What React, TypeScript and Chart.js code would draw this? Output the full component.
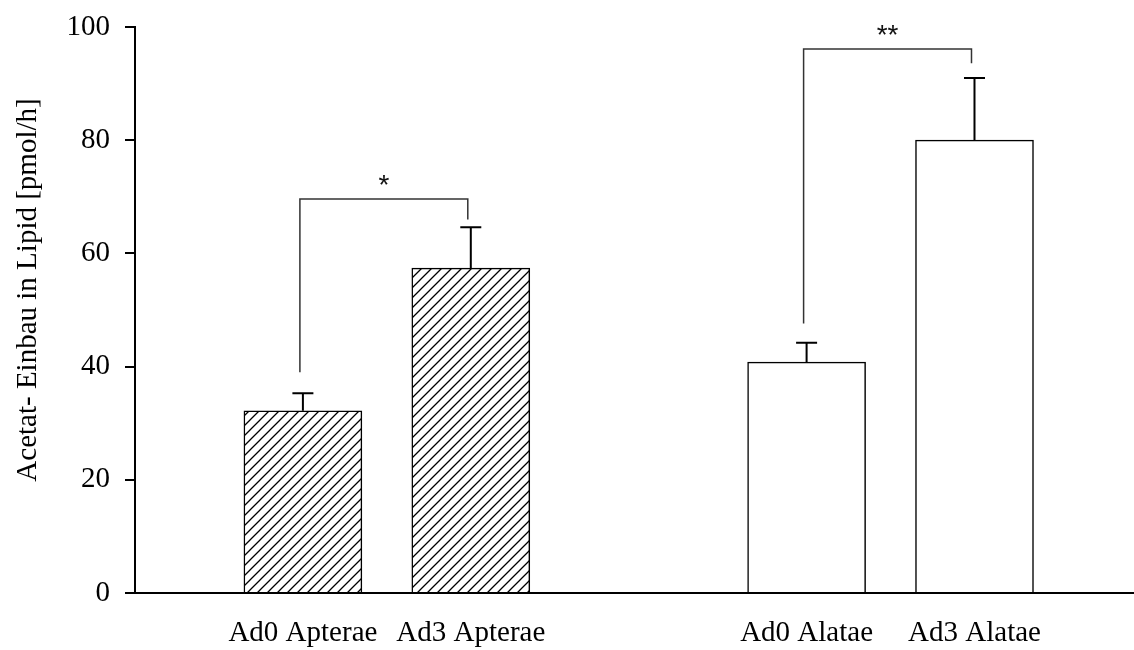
import React, { useEffect, useRef } from "react";
import { Chart, registerables } from "chart.js";

Chart.register(...registerables);

// Group names and their slot positions on the x axis (slot 3 is the gap between groups)
const categories = ["Ad0 Apterae", "Ad3 Apterae", "Ad0 Alatae", "Ad3 Alatae"];
const slots = [1, 2, 4, 5];
// Mean acetate incorporation (pmol/h) and upper error (SE)
const means = [32.2, 57.4, 40.8, 80.0];
const errors = [3.1, 7.2, 3.4, 11.0];
const hatched = [true, true, false, false];

// Significance brackets: indices of compared bars, bracket height, leg ends
const bracketFrom = [0, 2];
const bracketTo = [1, 3];
const bracketLevel = [69.6, 96.1];
const bracketLeftEnd = [39.0, 47.6];
const bracketRightEnd = [66.0, 93.6];
const bracketLabel = ["*", "**"];

const yTicks = [0, 20, 40, 60, 80, 100];
const yTitle = "Acetat- Einbau in Lipid [pmol/h]";

const SERIF = "'Liberation Serif', 'Times New Roman', serif";

function makeHatch(): CanvasPattern | string {
  const c = document.createElement("canvas");
  const s = 10;
  c.width = s;
  c.height = s;
  const ctx = c.getContext("2d");
  if (!ctx) return "#fff";
  ctx.fillStyle = "#fff";
  ctx.fillRect(0, 0, s, s);
  ctx.strokeStyle = "#000";
  ctx.lineWidth = 1.3;
  ctx.beginPath();
  ctx.moveTo(0, s);
  ctx.lineTo(s, 0);
  ctx.moveTo(-2, 2);
  ctx.lineTo(2, -2);
  ctx.moveTo(s - 2, s + 2);
  ctx.lineTo(s + 2, s - 2);
  ctx.stroke();
  return ctx.createPattern(c, "repeat") || "#fff";
}

const annotations = {
  id: "errAndBrackets",
  afterDatasetsDraw(chart: any) {
    const { ctx, scales } = chart;
    const xs = scales.x;
    const ys = scales.y;
    ctx.save();
    // upper error bars
    ctx.strokeStyle = "#000";
    ctx.lineWidth = 2;
    means.forEach((m, i) => {
      const x = xs.getPixelForValue(slots[i]);
      const y0 = ys.getPixelForValue(m);
      const y1 = ys.getPixelForValue(m + errors[i]);
      ctx.beginPath();
      ctx.moveTo(x, y0);
      ctx.lineTo(x, y1);
      ctx.moveTo(x - 10.5, y1);
      ctx.lineTo(x + 10.5, y1);
      ctx.stroke();
    });
    // significance brackets
    ctx.strokeStyle = "#333";
    ctx.lineWidth = 1.5;
    ctx.fillStyle = "#111";
    ctx.font = "28px 'Liberation Sans'";
    ctx.textAlign = "center";
    ctx.textBaseline = "middle";
    bracketLevel.forEach((lv, k) => {
      const xl = xs.getPixelForValue(slots[bracketFrom[k]]) - 3;
      const xr = xs.getPixelForValue(slots[bracketTo[k]]) - 3;
      const yl = ys.getPixelForValue(bracketLeftEnd[k]);
      const yr = ys.getPixelForValue(bracketRightEnd[k]);
      const yt = ys.getPixelForValue(lv);
      ctx.beginPath();
      ctx.moveTo(xl, yl);
      ctx.lineTo(xl, yt);
      ctx.lineTo(xr, yt);
      ctx.lineTo(xr, yr);
      ctx.stroke();
      ctx.fillText(bracketLabel[k], (xl + xr) / 2, yt - 13);
    });
    // rotated y-axis title
    ctx.fillStyle = "#000";
    ctx.font = `29px ${SERIF}`;
    ctx.translate(28, 290);
    ctx.rotate(-Math.PI / 2);
    ctx.fillText(yTitle, 0, 0);
    ctx.restore();
  },
};

export default function App() {
  const ref = useRef<HTMLCanvasElement>(null);

  useEffect(() => {
    if (!ref.current) return;
    const pattern = makeHatch();
    const chart = new Chart(ref.current, {
      type: "bar",
      data: {
        datasets: [
          {
            data: slots.map((s, i) => ({ x: s, y: means[i] })),
            backgroundColor: hatched.map((h) => (h ? pattern : "#fff")),
            borderColor: "#000",
            borderWidth: 1.5,
            barThickness: 118,
          } as any,
        ],
      },
      options: {
        responsive: false,
        animation: false,
        layout: { padding: { top: 27, right: 0, left: 0, bottom: 0 } },
        plugins: { legend: { display: false }, tooltip: { enabled: false } },
        scales: {
          x: {
            type: "linear",
            min: 0,
            max: 5.95,
            offset: false,
            afterFit: (scale: any) => {
              scale.height = 57;
            },
            afterBuildTicks: (scale: any) => {
              scale.ticks = slots.map((v) => ({ value: v }));
            },
            ticks: {
              color: "#000",
              padding: 23,
              maxRotation: 0,
              autoSkip: false,
              font: { family: SERIF, size: 29 },
              callback: (v: any) => {
                const i = slots.indexOf(Number(v));
                return i >= 0 ? categories[i] : "";
              },
            },
            grid: { display: false, drawTicks: false, offset: false },
            border: { display: true, color: "#000", width: 2 },
          },
          y: {
            min: 0,
            max: 100,
            afterFit: (scale: any) => {
              scale.width = 135;
              scale.paddingTop = 0;
              scale.paddingBottom = 0;
            },
            afterBuildTicks: (scale: any) => {
              scale.ticks = yTicks.map((v) => ({ value: v }));
            },
            ticks: {
              color: "#000",
              padding: 15,
              font: { family: SERIF, size: 29 },
            },
            grid: {
              drawOnChartArea: false,
              drawTicks: true,
              tickLength: 10,
              color: "#000",
              lineWidth: 2,
            },
            border: { display: true, color: "#000", width: 2 },
          },
        },
      },
      plugins: [annotations],
    });
    return () => chart.destroy();
  }, []);

  return (
    <div style={{ position: "absolute", left: 0, top: 0, width: 1134, height: 650, background: "#fff" }}>
      <canvas ref={ref} width={1134} height={650} />
    </div>
  );
}
